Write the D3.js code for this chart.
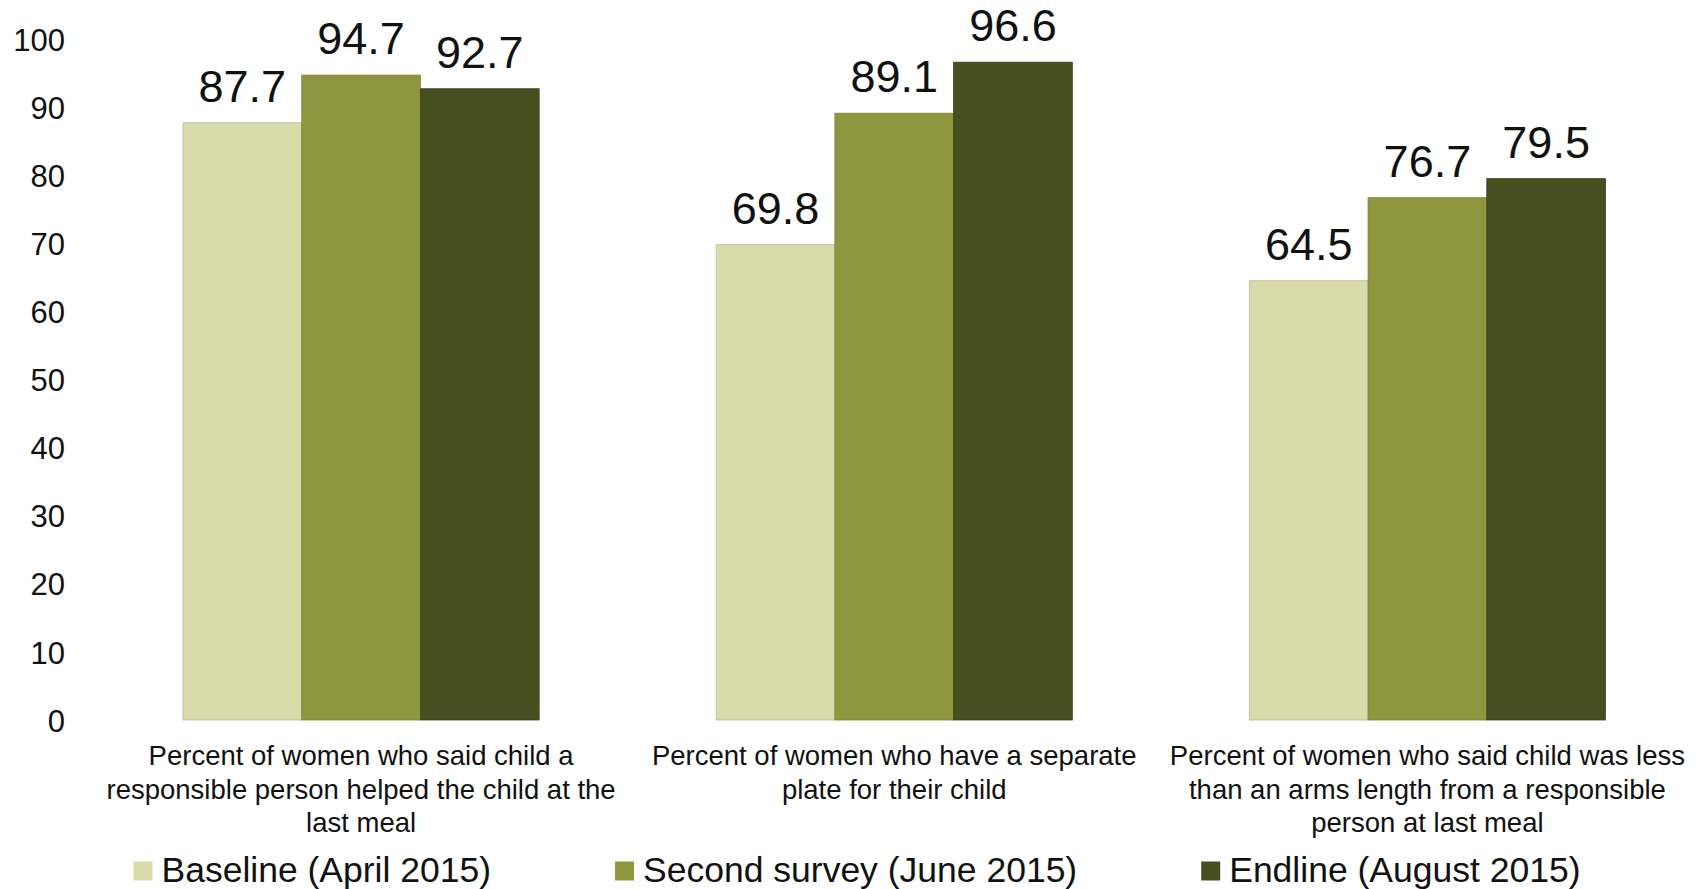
<!DOCTYPE html>
<html>
<head>
<meta charset="utf-8">
<script src="https://cdn.jsdelivr.net/npm/d3@7"></script>
<style>
  html, body { margin: 0; padding: 0; background: #ffffff; }
  svg { display: block; font-family: "Liberation Sans", Arial, sans-serif; }
</style>
</head>
<body>
<svg id="chart" width="1706" height="889"></svg>
<script>
// ---- data ----
const categories = [
  "Percent of women who said child a\nresponsible person helped the child at the\nlast meal",
  "Percent of women who have a separate\nplate for their child",
  "Percent of women who said child was less\nthan an arms length from a responsible\nperson at last meal"
];
const seriesNames = ["Baseline (April 2015)", "Second survey (June 2015)", "Endline (August 2015)"];
const baseline = [87.7, 69.8, 64.5];
const secondSurvey = [94.7, 89.1, 76.7];
const endline = [92.7, 96.6, 79.5];
const yTicks = [0, 10, 20, 30, 40, 50, 60, 70, 80, 90, 100];
const colors = ["#d6dba9", "#8e963e", "#474e20"];
const strokes = ["#b8bb9a", "#7f8738", "#3f451c"];

const seriesValues = [baseline, secondSurvey, endline];

// ---- layout ----
const svg = d3.select("#chart");
const y = d3.scaleLinear().domain([0, 100]).range([720, 39]);
const x0 = d3.scaleBand().domain(categories).range([94.5, 1694])
  .paddingInner(0.332).paddingOuter(0.166);
const x1 = d3.scaleBand().domain(seriesNames).range([0, x0.bandwidth()]);

// y axis labels (no line, no ticks)
const yAxis = d3.axisLeft(y).tickValues(yTicks).tickSize(0).tickPadding(0);
const gy = svg.append("g").attr("transform", "translate(65,0)").call(yAxis);
gy.select(".domain").remove();
gy.selectAll("text")
  .attr("font-family", "'Liberation Sans', Arial, sans-serif")
  .attr("font-size", 31)
  .attr("fill", "#111")
  .attr("dy", "0.36em");

// bars
const groups = svg.append("g").selectAll("g")
  .data(categories)
  .join("g")
  .attr("transform", d => `translate(${x0(d)},0)`);

groups.each(function(cat, ci) {
  const g = d3.select(this);
  seriesNames.forEach((s, si) => {
    const v = seriesValues[si][ci];
    g.append("rect")
      .attr("x", x1(s))
      .attr("y", y(v))
      .attr("width", x1.bandwidth())
      .attr("height", y(0) - y(v))
      .attr("fill", colors[si])
      .attr("stroke", strokes[si])
      .attr("stroke-width", 0.8);
    g.append("text")
      .attr("x", x1(s) + x1.bandwidth() / 2)
      .attr("y", y(v) - 21)
      .attr("text-anchor", "middle")
      .attr("font-size", 45)
      .attr("fill", "#111")
      .text(v.toFixed(1));
  });
});

// category labels
groups.each(function(cat) {
  const g = d3.select(this);
  const lines = cat.split("\n");
  const t = g.append("text")
    .attr("text-anchor", "middle")
    .attr("font-size", 27.5)
    .attr("fill", "#111");
  lines.forEach((ln, i) => {
    t.append("tspan")
      .attr("x", x0.bandwidth() / 2)
      .attr("y", 765 + i * 33.7)
      .text(ln);
  });
});

// legend
const legend = svg.append("g");
const items = legend.selectAll("g").data(seriesNames).join("g");
items.append("rect")
  .attr("width", 19).attr("height", 19)
  .attr("y", -19 / 2 - 11)
  .attr("fill", (d, i) => colors[i]);
items.append("text")
  .attr("x", 28)
  .attr("y", 0)
  .attr("font-size", 35.5)
  .attr("fill", "#111")
  .text(d => d);
let widths = [];
items.each(function() {
  widths.push(28 + d3.select(this).select("text").node().getComputedTextLength());
});
const gap = 124;
const total = d3.sum(widths) + gap * (widths.length - 1);
let cx = 857 - total / 2;
items.each(function(d, i) {
  d3.select(this).attr("transform", `translate(${cx},882)`);
  cx += widths[i] + gap;
});
</script>
</body>
</html>
